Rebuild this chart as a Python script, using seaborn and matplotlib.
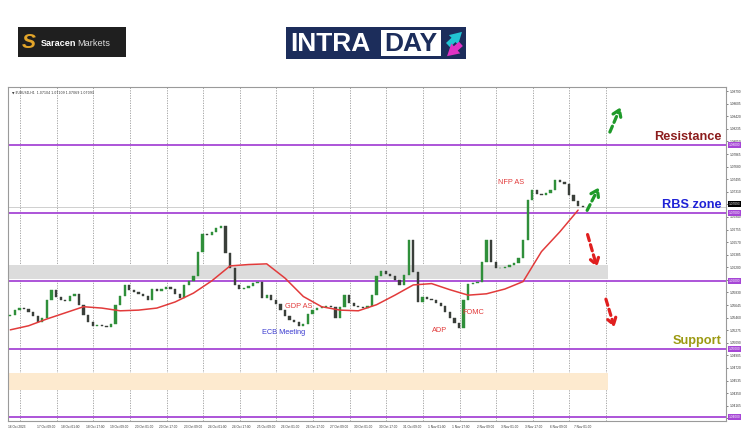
"""
EURUSD H1 intraday chart with support / resistance levels.
"""

import matplotlib
matplotlib.use("Agg")
import matplotlib.pyplot as plt
import matplotlib.transforms as mtransforms
from matplotlib.patches import Rectangle
import numpy as np
import seaborn as sns

# ---- data ----
closes = [
    1.0550, 1.0557, 1.0560, 1.0559, 1.0554, 1.0549, 1.0540, 1.0546, 1.0572, 1.0587,
    1.0577, 1.0572, 1.0571, 1.0578, 1.0581, 1.0565, 1.0550, 1.0540, 1.0534, 1.0535,
    1.0534, 1.0532, 1.0537, 1.0565, 1.0578, 1.0594, 1.0587, 1.0584, 1.0581, 1.0578,
    1.0572, 1.0588, 1.0585, 1.0588, 1.0591, 1.0588, 1.0581, 1.0575, 1.0594, 1.0600,
    1.0607, 1.0643, 1.0669, 1.0668, 1.0672, 1.0678, 1.0681, 1.0641, 1.0619, 1.0594,
    1.0588, 1.0590, 1.0593, 1.0597, 1.0599, 1.0575, 1.0579, 1.0572, 1.0566, 1.0557,
    1.0549, 1.0543, 1.0540, 1.0534, 1.0537, 1.0552, 1.0557, 1.0560, 1.0562, 1.0563,
    1.0562, 1.0546, 1.0562, 1.0579, 1.0568, 1.0563, 1.0562, 1.0560, 1.0563, 1.0579,
    1.0607, 1.0615, 1.0610, 1.0607, 1.0602, 1.0594, 1.0609, 1.0660, 1.0613, 1.0569,
    1.0577, 1.0574, 1.0572, 1.0568, 1.0563, 1.0554, 1.0546, 1.0538, 1.0531, 1.0572,
    1.0596, 1.0597, 1.0599, 1.0628, 1.0660, 1.0628, 1.0619, 1.0619, 1.0621, 1.0624,
    1.0626, 1.0634, 1.0660, 1.0719, 1.0734, 1.0728, 1.0726, 1.0729, 1.0734, 1.0749,
    1.0746, 1.0743, 1.0726, 1.0718, 1.0710, 1.0709,
]
first_open = 1.0548

ma_bar = list(range(0, 125, 4))
ma_values = [
    1.0528, 1.0534, 1.0544, 1.0553, 1.0562, 1.0560, 1.0556, 1.0557, 1.0560, 1.0569,
    1.0582, 1.0600, 1.0622, 1.0624, 1.0625, 1.0604, 1.0577, 1.0562, 1.0557, 1.0556,
    1.0565, 1.0579, 1.0594, 1.0596, 1.0587, 1.0579, 1.0581, 1.0588, 1.0599, 1.0643,
    1.0672, 1.0704,
]

levels = [1.0800, 1.0700, 1.0600, 1.0500, 1.0400]
level_labels = ["1.08000", "1.07000", "1.06000", "1.05000", "1.04000"]
current_price = 1.07093
grey_zone = (1.0603, 1.0624)
peach_zone = (1.0440, 1.0465)

price_ticks = [1.08790, 1.08605, 1.08420, 1.08235, 1.08050, 1.07865, 1.07680,
               1.07495, 1.07310, 1.07125, 1.06940, 1.06755, 1.06570, 1.06385,
               1.06200, 1.06015, 1.05830, 1.05645, 1.05460, 1.05275, 1.05090,
               1.04905, 1.04720, 1.04535, 1.04350, 1.04165, 1.03980]

time_labels = ["16 Oct 2023", "17 Oct 09:00", "18 Oct 01:00", "18 Oct 17:00",
               "19 Oct 09:00", "20 Oct 01:00", "20 Oct 17:00", "23 Oct 09:00",
               "24 Oct 01:00", "24 Oct 17:00", "25 Oct 09:00", "26 Oct 01:00",
               "26 Oct 17:00", "27 Oct 09:00", "30 Oct 01:00", "30 Oct 17:00",
               "31 Oct 09:00", "1 Nov 01:00", "1 Nov 17:00", "2 Nov 09:00",
               "3 Nov 01:00", "3 Nov 17:00", "6 Nov 09:00", "7 Nov 01:00"]

events = ["NFP AS", "GDP AS", "ECB Meeting", "FOMC", "ADP"]
event_bar = [106.5, 60.0, 55.0, 98.8, 92.1]
event_price = [1.0744, 1.0563, 1.0524, 1.0554, 1.0527]
event_colors = ["#e23b3b", "#e23b3b", "#3b3bd0", "#e23b3b", "#e23b3b"]

sns.set_style("white")
plt.rcParams["font.family"] = ["Liberation Sans", "DejaVu Sans"]

PURPLE = "#a646d6"

fig = plt.figure(figsize=(7.5, 4.3), dpi=100)

# ---- logos (overlay in pixel coordinates) ----
lax = fig.add_axes([0, 0, 1, 1])
lax.set_xlim(0, 750)
lax.set_ylim(430, 0)
lax.axis("off")

lax.add_patch(Rectangle((18, 27), 108, 30, fc="#1f1f1f", ec="none"))
lax.text(29, 43, "S", color="#e3a52a", fontsize=15, fontweight="bold",
         style="italic", ha="center", va="center")
lax.text(41, 43, "Saracen", color="white", fontsize=6.6, fontweight="bold",
         ha="left", va="center")
lax.text(77, 43, "Markets", color="#dddddd", fontsize=6.6, ha="left", va="center")

lax.add_patch(Rectangle((286, 27), 180, 32, fc="#1c2d5b", ec="none"))
lax.add_patch(Rectangle((381, 30), 60, 26, fc="white", ec="none"))
lax.text(290, 44, "INTRA", color="white", fontsize=19, fontweight="bold",
         ha="left", va="center")
lax.text(384, 44, "DAY", color="#1c2d5b", fontsize=19, fontweight="bold",
         ha="left", va="center")
lax.annotate("", xy=(464, 30), xytext=(446, 47),
             arrowprops=dict(arrowstyle="simple,head_length=0.7,head_width=0.8,tail_width=0.35",
                             color="#22c4d2", mutation_scale=12, lw=0))
lax.annotate("", xy=(445, 58), xytext=(463, 42),
             arrowprops=dict(arrowstyle="simple,head_length=0.7,head_width=0.8,tail_width=0.35",
                             color="#e033c4", mutation_scale=12, lw=0))

# ---- price chart ----
ax = fig.add_axes([8 / 750, 9 / 430, 718 / 750, 334 / 430])
ax.set_facecolor("white")

bars = np.arange(len(closes))
opens = np.array([first_open] + closes[:-1])
close_arr = np.array(closes)
up = close_arr >= opens
colors = np.where(up, "#2f8f3a", "#3a3f3a")
heights = np.where(np.abs(close_arr - opens) < 0.00006, 0.00006, close_arr - opens)
ax.bar(bars, heights, bottom=opens, width=0.5, color=colors,
       edgecolor=colors, linewidth=0.3, zorder=3)

sns.lineplot(x=ma_bar, y=ma_values, ax=ax, color="#e23b3b", lw=1.1, zorder=4)

ax.set_xlim(-0.5, 156.3)
ax.set_ylim(1.0394, 1.0885)

# zones
ax.fill_between([-0.5, 130.5], grey_zone[0], grey_zone[1], color="#dcdcdc",
                lw=0, zorder=1)
ax.fill_between([-0.5, 130.5], peach_zone[0], peach_zone[1], color="#fdeacf",
                lw=0, zorder=1)

# daily grid
ax.set_xticks(np.arange(2.12, 131, 8), minor=True)
ax.grid(which="minor", axis="x", ls=(0, (1.5, 1.5)), color="#9a9a9a", lw=0.6)
ax.grid(which="major", visible=False)

# levels
for lv in levels:
    ax.axhline(lv, color=PURPLE, lw=1.3, zorder=2)
ax.axhline(current_price, color="#c8c8c8", lw=0.6, zorder=2)

# time axis
tick_pos = [-0.5] + list(5.83 + 16 / 3 * np.arange(len(time_labels) - 1))
ax.set_xticks(tick_pos)
ax.set_xticklabels(time_labels, fontsize=2.3, ha="left", color="#333333")
ax.tick_params(axis="x", which="major", length=1.5, width=0.4, pad=1.5)
ax.tick_params(axis="x", which="minor", length=0)

# price axis
ax.yaxis.tick_right()
ax.set_yticks(price_ticks)
ax.set_yticklabels([f"{p:.5f}" for p in price_ticks], fontsize=2.3, color="#333333")
ax.tick_params(axis="y", length=1.5, width=0.4, pad=1.5)

for s in ax.spines.values():
    s.set_color("#9a9a9a")
    s.set_linewidth(0.8)

trans = mtransforms.blended_transform_factory(ax.transAxes, ax.transData)
for lv, lab in zip(levels, level_labels):
    ax.text(1.004, lv, lab, transform=trans, fontsize=2.3, color="white",
            ha="left", va="center",
            bbox=dict(boxstyle="square,pad=0.25", fc=PURPLE, ec="none"))
ax.text(1.004, current_price + 0.0004, f"{current_price:.5f}", transform=trans,
        fontsize=2.3, color="white", ha="left", va="center",
        bbox=dict(boxstyle="square,pad=0.25", fc="black", ec="none"))

ax.text(0.006, 0.988, "▼ EURUSD,H1  1.07104 1.07109 1.07069 1.07093",
        transform=ax.transAxes, fontsize=2.3, color="#333333",
        family=["DejaVu Sans"], ha="left", va="top")

# level captions
ax.text(0.9944, 1.0802, "Resistance", transform=trans, color="#8c1d1d",
        fontsize=9.2, fontweight="bold", ha="right", va="bottom")
ax.text(0.9944, 1.0703, "RBS zone", transform=trans, color="#1f22d6",
        fontsize=9.2, fontweight="bold", ha="right", va="bottom")
ax.text(0.9944, 1.0503, "Support", transform=trans, color="#9c9a12",
        fontsize=9.2, fontweight="bold", ha="right", va="bottom")

# event notes
for name, b, p, c in zip(events, event_bar, event_price, event_colors):
    ax.text(b, p, name, color=c, fontsize=5.3, ha="left", va="center")

# scenario arrows
arrow_style = "->,head_length=0.45,head_width=0.3"
for start, end, c in [((125.7, 1.0700), (128.8, 1.0741), "#1f9a2a"),
                      ((130.7, 1.0815), (133.5, 1.0859), "#1f9a2a"),
                      ((125.9, 1.0672), (128.3, 1.0616), "#e01f1f"),
                      ((129.9, 1.0577), (132.1, 1.0528), "#e01f1f")]:
    ax.annotate("", xy=end, xytext=start,
                arrowprops=dict(arrowstyle=arrow_style, color=c, lw=2.3,
                                linestyle=(0, (2, 1.3))), zorder=5)

ax.set_xlabel("")
ax.set_ylabel("")

fig.savefig("out.png", dpi=100)
